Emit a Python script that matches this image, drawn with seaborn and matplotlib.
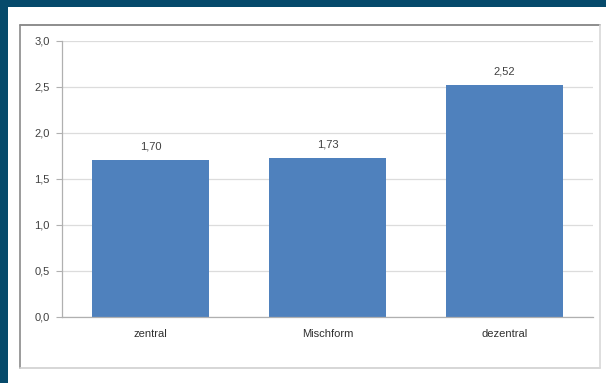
import matplotlib
matplotlib.use("Agg")
import matplotlib.pyplot as plt
import seaborn as sns
import pandas as pd
from matplotlib.patches import Rectangle
from matplotlib.lines import Line2D

categories = ["zentral", "Mischform", "dezentral"]
values = [1.70, 1.73, 2.52]
y_ticks = [0.0, 0.5, 1.0, 1.5, 2.0, 2.5, 3.0]

df = pd.DataFrame({"Form": categories, "Wert": values})

sns.set_theme(style="white")
plt.rcParams["font.family"] = ["Liberation Sans", "DejaVu Sans"]

W, H = 606, 383
fig = plt.figure(figsize=(W / 100, H / 100), dpi=100)
fig.patch.set_facecolor("white")

# dark frame along the top and left edges
frame = "#064a6b"
fig.add_artist(Rectangle((0, 1 - 7 / H), 1, 7 / H, transform=fig.transFigure,
                         facecolor=frame, edgecolor="none", zorder=0))
fig.add_artist(Rectangle((0, 0), 8 / W, 1, transform=fig.transFigure,
                         facecolor=frame, edgecolor="none", zorder=0))

# chart panel border
x0, x1 = 20 / W, 600 / W
y0, y1 = 1 - 368 / H, 1 - 25 / H
for xs, ys, c in [([x0, x1], [y1, y1], "#7a7a7a"),
                  ([x0, x0], [y0, y1], "#8a8a8a"),
                  ([x0, x1], [y0, y0], "#d0d0d0"),
                  ([x1, x1], [y0, y1], "#d8d8d8")]:
    fig.add_artist(Line2D(xs, ys, transform=fig.transFigure, color=c, lw=1.2))

ax = fig.add_axes([62 / W, 1 - 316.7 / H, 531 / W, 276 / H])
ax.set_facecolor("white")

sns.barplot(data=df, x="Form", y="Wert", color="#4f81bd", saturation=1,
            width=0.66, ax=ax, edgecolor="none")

ax.set_ylim(0, 3.0)
ax.set_xlim(-0.5, 2.5)
ax.set_yticks(y_ticks)
ax.set_yticklabels([f"{t:.1f}".replace(".", ",") for t in y_ticks])
ax.set_xlabel("")
ax.set_ylabel("")

ax.yaxis.grid(True, color="#dcdcdc", lw=0.9)
ax.set_axisbelow(True)
for s in ["top", "right"]:
    ax.spines[s].set_visible(False)
ax.spines["left"].set_color("#b0b0b0")
ax.spines["bottom"].set_color("#b0b0b0")
ax.spines["left"].set_linewidth(0.9)
ax.spines["bottom"].set_linewidth(0.9)

ax.tick_params(axis="y", length=4, width=0.8, color="#b0b0b0", left=True,
               labelsize=8, labelcolor="#404040", pad=5)
ax.tick_params(axis="x", length=0, labelsize=8, labelcolor="#303030", pad=9)

for i, v in enumerate(values):
    ax.annotate(f"{v:.2f}".replace(".", ","), (i, v), xytext=(0, 6),
                textcoords="offset points", ha="center", va="bottom",
                fontsize=8, color="#404040")

fig.savefig("out.png", dpi=100)
